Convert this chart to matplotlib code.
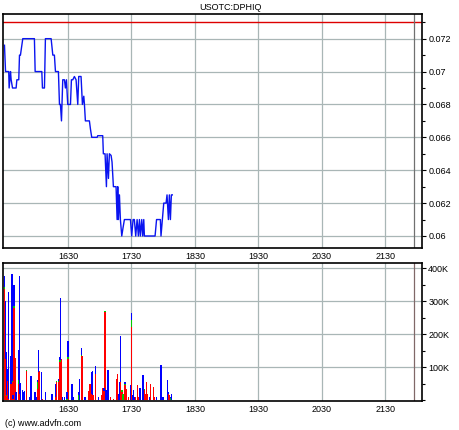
import matplotlib
matplotlib.use('Agg')
import matplotlib.pyplot as plt
from matplotlib.ticker import FixedLocator, MultipleLocator, FuncFormatter

plt.rcParams['font.family'] = ['Liberation Sans', 'DejaVu Sans']

title = 'USOTC:DPHIQ'
start = 930  # 15:30, minutes since midnight

# price trace: minutes after 15:30 and price
price_min = [0, 1, 4, 4.4, 5.7, 6.3, 7.6, 11, 11.7, 13.5, 14.2, 15.1, 17.3, 28.3, 29, 35.3,
             35.9, 37.8, 38.7, 44.1, 45.7, 47.2, 48.2, 51, 52, 52.9, 53.9, 55.1, 56.7, 57.6,
             58.6, 59.8, 62.4, 63.3, 64.6, 66.1, 67.7, 69.3, 70.2, 72.4, 73.7, 75, 75.6, 76.5,
             80.3, 81.3, 82.5, 87.6, 88.2, 92.9, 93.5, 95.1, 96.4, 97, 98.3, 99.2, 100.8, 101.7,
             103, 105.5, 106.5, 107.1, 107.7, 108.7, 109.6, 110.9, 112.1, 113.4, 119.1, 120.3,
             121.6, 122.8, 124.1, 125.4, 126.6, 127.6, 128.5, 129.8, 130.7, 131.7, 132.3, 142.4,
             143.8, 147.4, 148, 149.3, 150.6, 152.8, 153.7, 155, 155.9, 156.9, 157.8, 158.7]
price = [0.0716, 0.0700, 0.0700, 0.0690, 0.0700, 0.0695, 0.0690, 0.0690, 0.0695, 0.0695,
         0.0710, 0.0710, 0.0720, 0.0720, 0.0700, 0.0700, 0.0690, 0.0690, 0.0720, 0.0720,
         0.0710, 0.0710, 0.0700, 0.0700, 0.0680, 0.0680, 0.0670, 0.0695, 0.0695, 0.0690,
         0.0695, 0.0680, 0.0680, 0.0695, 0.0695, 0.0697, 0.0695, 0.0680, 0.0697, 0.0697,
         0.0680, 0.0685, 0.0680, 0.0670, 0.0670, 0.0665, 0.0660, 0.0660, 0.0661, 0.0661,
         0.0650, 0.0650, 0.0630, 0.0650, 0.0635, 0.0650, 0.0649, 0.0645, 0.0630, 0.0630,
         0.0610, 0.0630, 0.0610, 0.0625, 0.0610, 0.0600, 0.0605, 0.0610, 0.0610, 0.0600,
         0.0610, 0.0610, 0.0600, 0.0610, 0.0600, 0.0610, 0.0600, 0.0610, 0.0600, 0.0610,
         0.0600, 0.0600, 0.0610, 0.0610, 0.0600, 0.0610, 0.0620, 0.0620, 0.0625, 0.0610,
         0.0625, 0.0610, 0.0625, 0.0625]
prev_close = 0.073

# volume per minute (thousands): red, green, then blue on top
vol_min = [0, 1, 2, 3, 4, 6, 7, 8, 9, 10, 11, 13, 14, 15, 17, 18, 19, 21, 24, 25, 29, 30,
           31, 32, 33, 35, 36, 39, 45, 48, 49, 51, 52, 53, 54, 55, 57, 59, 60, 64, 65, 70,
           71, 73, 74, 76, 80, 81, 82, 83, 84, 86, 89, 92, 93, 94, 95, 96, 98, 100, 103, 106,
           107, 108, 109, 110, 111, 112, 114, 115, 117, 119, 120, 121, 122, 123, 124, 126,
           127, 128, 131, 132, 133, 134, 135, 137, 138, 141, 142, 144, 148, 150, 154, 155,
           156, 157, 158]
vol_red = [338, 125, 12, 60, 5, 50, 55, 5, 280, 128, 0, 50, 20, 0, 0, 0, 0, 88, 0, 0, 0, 0,
           35, 86, 90, 0, 5, 0, 0, 10, 55, 55, 116, 116, 126, 0, 0, 0, 126, 0, 0, 0,
           0, 134, 134, 0, 27, 50, 20, 17, 17, 81, 0, 17, 37, 27, 268, 0, 0, 10, 5, 66,
           81, 0, 0, 56, 25, 0, 45, 35, 10, 0, 222, 0, 0, 0, 10, 47,
           10, 0, 0, 30, 20, 56, 20, 0, 50, 40, 10, 0, 0, 0, 0, 20,
           15, 0, 0]
vol_green = [4, 0, 4, 0, 0, 0, 5, 0, 6, 0, 0, 12, 0, 0, 0, 0, 0, 4, 0, 0, 0, 0,
             20, 0, 0, 0, 0, 0, 0, 0, 3, 3, 6, 5, 0, 0, 0, 5, 4, 0, 0, 15,
             0, 4, 0, 0, 0, 0, 0, 0, 0, 0, 0, 0, 0, 0, 4, 0, 0, 0, 0, 0,
             0, 0, 0, 0, 5, 20, 4, 0, 0, 0, 20, 0, 0, 0, 0, 0,
             0, 0, 0, 4, 0, 0, 0, 0, 0, 0, 0, 0, 0, 0, 0, 0,
             0, 8, 0]
vol_blue = [36, 175, 130, 36, 323, 84, 323, 10, 62, 0, 25, 92, 358, 53, 32, 25, 28, 0, 10, 74, 25, 10,
            8, 68, 0, 86, 0, 25, 19, 40, 2, 7, 9, 190, 0, 10, 10, 20, 50, 50, 10, 10,
            65, 21, 0, 10, 0, 0, 66, 72, 0, 23, 10, 0, 0, 10, 0, 30, 91, 0, 0, 0,
            0, 20, 56, 139, 0, 0, 7, 0, 0, 45, 23, 17, 32, 10, 0, 0,
            0, 37, 78, 0, 0, 0, 0, 10, 0, 0, 0, 10, 106, 10, 62, 5,
            2, 2, 20]

now_line = 1317  # minutes since midnight
xticks = [990, 1050, 1110, 1170, 1230, 1290]
xlabels = ['1630', '1730', '1830', '1930', '2030', '2130']

px = [start + m for m in price_min]
vx = [start + m for m in vol_min]
green_base = [r for r in vol_red]
blue_base = [r + g for r, g in zip(vol_red, vol_green)]

fig = plt.figure(figsize=(4.6, 4.3), dpi=100)
ax1 = fig.add_axes([3 / 460, 1 - 248 / 430, 419 / 460, 234 / 430])
ax2 = fig.add_axes([3 / 460, 1 - 401 / 430, 419 / 460, 138.3 / 430])

grid_col = '#a9b6b6'
for ax in (ax1, ax2):
    ax.set_xlim(928.6, 1324.8)
    ax.set_xticks(xticks)
    ax.set_xticklabels(xlabels)
    ax.grid(True, color=grid_col, linewidth=0.9)
    ax.set_axisbelow(True)
    ax.yaxis.tick_right()
    ax.tick_params(axis='x', length=0, labelsize=6.5, pad=3)
    ax.tick_params(axis='y', which='major', length=3, width=0.8, labelsize=6.5, pad=1.5, direction='out')
    ax.tick_params(axis='y', which='minor', length=2, width=0.8, direction='out')
    for s in ax.spines.values():
        s.set_linewidth(1.2)

# price panel
ax1.plot(px, price, color='#0a14f0', linewidth=1.0)
ax1.axhline(prev_close, color='#dd0000', linewidth=1.0)
ax1.axvline(now_line, color='#707070', linewidth=0.9)
ax1.set_ylim(0.05927, 0.0735)
ax1.yaxis.set_major_locator(FixedLocator([0.060, 0.062, 0.064, 0.066, 0.068, 0.070, 0.072]))
ax1.yaxis.set_minor_locator(MultipleLocator(0.001))
ax1.yaxis.set_major_formatter(FuncFormatter(lambda v, p: ('%.3f' % v).rstrip('0')))

# volume panel
ax2.bar(vx, vol_red, width=1.3, color='#ff0000', linewidth=0)
ax2.bar(vx, vol_green, width=1.3, bottom=green_base, color='#00cc00', linewidth=0)
ax2.bar(vx, vol_blue, width=1.3, bottom=blue_base, color='#0000ff', linewidth=0)
ax2.axvline(now_line, color='#806868', linewidth=0.9)
ax2.set_ylim(-2, 417)
ax2.yaxis.set_major_locator(FixedLocator([100, 200, 300, 400]))
ax2.yaxis.set_minor_locator(MultipleLocator(50))
ax2.yaxis.set_major_formatter(FuncFormatter(lambda v, p: '%dK' % v))

fig.text(0.5, 1 - 8 / 430, title, ha='center', va='center', fontsize=6.5)
fig.text(5 / 460, 1 - 423 / 430, '(c) www.advfn.com', ha='left', va='center', fontsize=6.5)

fig.savefig('out.png', dpi=100)
